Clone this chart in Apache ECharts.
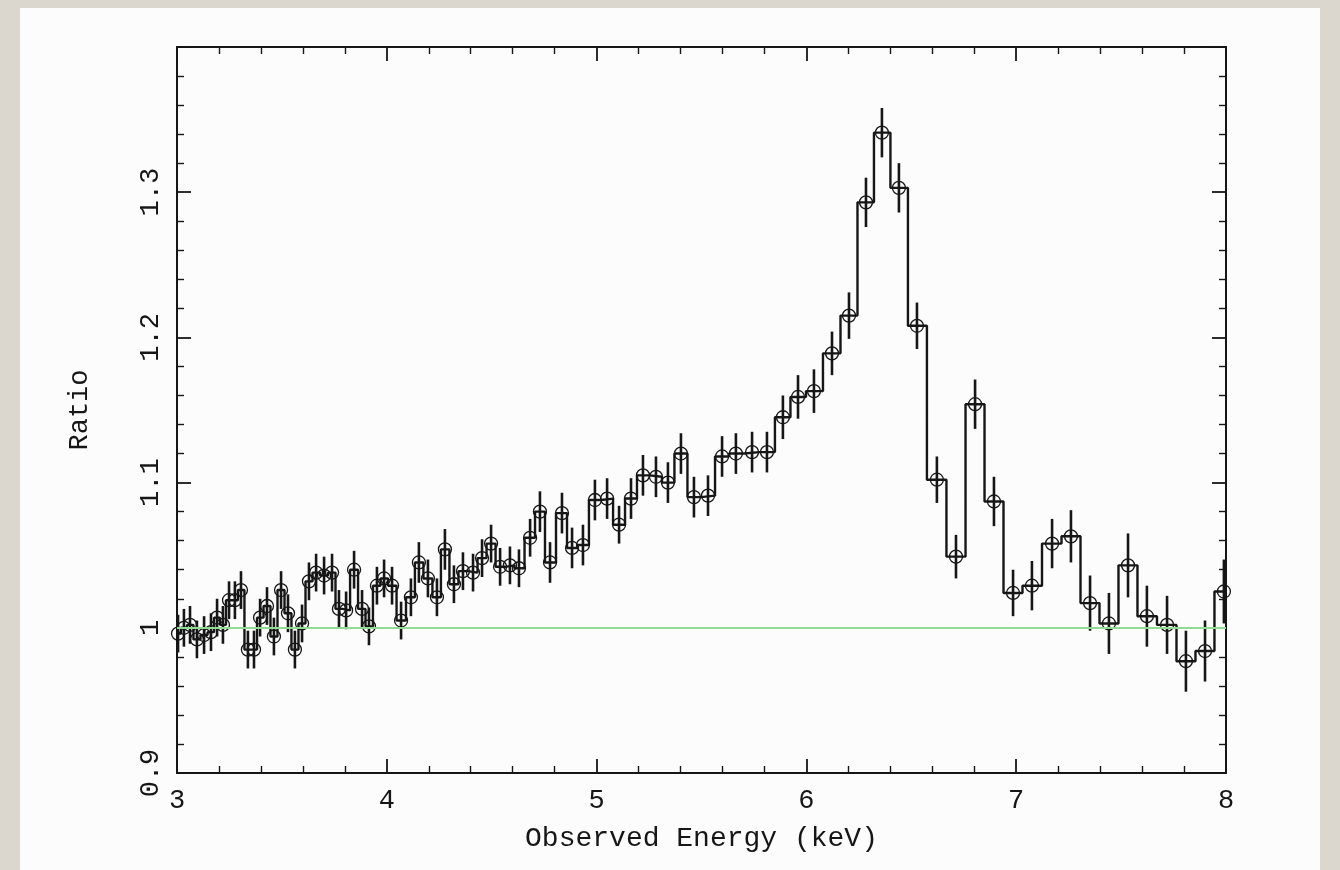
<!DOCTYPE html>
<html>
<head>
<meta charset="utf-8">
<script src="https://cdn.jsdelivr.net/npm/echarts@6/dist/echarts.min.js"></script>
<style>
html,body{margin:0;padding:0;}
body{width:1340px;height:870px;background:#dbd7cf;position:relative;overflow:hidden;}
#panel{position:absolute;left:20px;top:8px;width:1300px;height:862px;background:#fcfcfc;}
#chart{position:absolute;left:0;top:0;width:1340px;height:870px;}
</style>
</head>
<body>
<div id="panel"></div>
<div id="chart"></div>
<script>
// Bin centres (keV)
const energy = [
3.005,3.033,3.062,3.095,3.129,3.162,3.191,3.219,3.248,3.276,
3.305,3.338,3.367,3.396,3.429,3.462,3.496,3.529,3.562,3.596,
3.629,3.663,3.701,3.739,3.772,3.806,3.844,3.882,3.915,3.953,
3.987,4.025,4.068,4.115,4.153,4.196,4.239,4.277,4.320,4.363,
4.411,4.454,4.497,4.540,4.587,4.630,4.683,4.730,4.778,4.835,
4.883,4.935,4.992,5.050,5.107,5.164,5.221,5.283,5.340,5.402,
5.464,5.531,5.598,5.664,5.741,5.812,5.888,5.960,6.036,6.122,
6.203,6.284,6.360,6.441,6.527,6.622,6.713,6.804,6.894,6.985,
7.075,7.171,7.261,7.352,7.442,7.533,7.623,7.719,7.809,7.900,
7.990
];
// Data/model ratio
const ratio = [
0.996,1.000,1.002,0.992,0.995,0.997,1.007,1.002,1.019,1.019,
1.026,0.985,0.985,1.007,1.015,0.994,1.026,1.010,0.985,1.003,
1.032,1.038,1.036,1.038,1.013,1.012,1.040,1.013,1.001,1.029,
1.034,1.029,1.005,1.021,1.045,1.034,1.021,1.054,1.030,1.039,
1.038,1.048,1.058,1.042,1.043,1.041,1.062,1.080,1.045,1.079,
1.055,1.057,1.088,1.089,1.071,1.089,1.105,1.104,1.100,1.120,
1.090,1.091,1.118,1.120,1.121,1.121,1.145,1.159,1.163,1.189,
1.215,1.293,1.341,1.303,1.208,1.102,1.049,1.154,1.087,1.024,
1.029,1.058,1.063,1.017,1.003,1.043,1.008,1.002,0.977,0.984,
1.025
];
// 1-sigma errors
const ratioErr = [
0.013,0.013,0.013,0.013,0.013,0.013,0.013,0.013,0.013,0.013,
0.013,0.013,0.013,0.013,0.013,0.013,0.013,0.013,0.013,0.013,
0.013,0.013,0.013,0.013,0.013,0.013,0.013,0.013,0.013,0.013,
0.013,0.013,0.013,0.013,0.014,0.013,0.013,0.014,0.013,0.013,
0.013,0.013,0.013,0.013,0.013,0.013,0.013,0.014,0.014,0.014,
0.014,0.014,0.014,0.014,0.013,0.014,0.014,0.014,0.014,0.014,
0.014,0.014,0.014,0.014,0.014,0.014,0.015,0.015,0.015,0.015,
0.016,0.017,0.017,0.017,0.016,0.016,0.015,0.017,0.017,0.016,
0.017,0.017,0.018,0.019,0.021,0.022,0.021,0.020,0.021,0.021,
0.022
];
const xTicks = [3,4,5,6,7,8];
const yTicks = [0.9,1,1.1,1.2,1.3];
const refLevel = 1;

const X_MIN = 3, X_MAX = 8, Y_MIN = 0.9, Y_MAX = 1.4;

// Build histogram step outline from bin centres (edges at midpoints)
const stepData = [];
for (let i = 0; i < energy.length; i++) {
  let lo, hi;
  if (i === 0) lo = Math.max(X_MIN, energy[0] - (energy[1]-energy[0])/2);
  else lo = (energy[i-1] + energy[i]) / 2;
  if (i === energy.length-1) hi = Math.min(X_MAX, energy[i] + (energy[i]-energy[i-1])/2);
  else hi = (energy[i] + energy[i+1]) / 2;
  stepData.push([lo, ratio[i]]);
  stepData.push([hi, ratio[i]]);
}
const pts = energy.map((e,i)=>[e, ratio[i], ratioErr[i]]);

const FONT = '"Liberation Mono", "DejaVu Sans Mono", monospace';
const INK = '#161616';

const chart = echarts.init(document.getElementById('chart'), null, {renderer:'canvas'});

const axisCommon = {
  axisLine:{show:true, lineStyle:{color:INK, width:2}},
  axisTick:{show:true, inside:true, length:14, lineStyle:{color:INK, width:1.8}},
  minorTick:{show:true, splitNumber:5, length:7, lineStyle:{color:INK, width:1.4}},
  splitLine:{show:false}
};

chart.setOption({
  backgroundColor:'transparent',
  animation:false,
  grid:{left:177, right:114, top:47, bottom:97, containLabel:false},
  xAxis:[
    Object.assign({
      type:'value', min:X_MIN, max:X_MAX, interval:1, position:'bottom',
      name:'Observed Energy (keV)', nameLocation:'middle', nameGap:52,
      nameTextStyle:{fontFamily:FONT, fontSize:28, color:INK},
      axisLabel:{fontFamily:FONT, fontSize:27, color:INK, margin:14,
        formatter:v=> xTicks.indexOf(v) >= 0 ? String(v) : ''}
    }, axisCommon),
    Object.assign({
      type:'value', min:X_MIN, max:X_MAX, interval:1, position:'top',
      axisLabel:{show:false}
    }, axisCommon)
  ],
  yAxis:[
    Object.assign({
      type:'value', min:Y_MIN, max:Y_MAX, interval:0.1, position:'left',
      name:'Ratio', nameLocation:'middle', nameGap:84, nameRotate:90,
      nameTextStyle:{fontFamily:FONT, fontSize:27, color:INK},
      axisLabel:{fontFamily:FONT, fontSize:27, color:INK, margin:13, rotate:90,
        formatter:v=>{ const r = Math.round(v*10)/10; return yTicks.indexOf(r) >= 0 ? String(r) : ''; }}
    }, axisCommon),
    Object.assign({
      type:'value', min:Y_MIN, max:Y_MAX, interval:0.1, position:'right',
      axisLabel:{show:false}
    }, axisCommon)
  ],
  series:[
    {
      type:'line', data:stepData, xAxisIndex:0, yAxisIndex:0,
      symbol:'none', lineStyle:{color:INK, width:2.4}, z:3, silent:true
    },
    {
      type:'custom', xAxisIndex:0, yAxisIndex:0, data:pts, z:4, silent:true,
      renderItem:function(params, api){
        const x = api.value(0), v = api.value(1), e = api.value(2);
        const c = api.coord([x, v]);
        const top = api.coord([x, v+e]);
        const bot = api.coord([x, v-e]);
        return {
          type:'group',
          children:[
            {type:'line', shape:{x1:c[0], y1:top[1], x2:c[0], y2:bot[1]},
             style:{stroke:INK, lineWidth:2.6}},
            {type:'circle', shape:{cx:c[0], cy:c[1], r:6.5},
             style:{fill:'none', stroke:INK, lineWidth:1.3}}
          ]
        };
      }
    },
    {
      type:'line', data:[], xAxisIndex:0, yAxisIndex:0, z:5, silent:true,
      markLine:{
        silent:true, symbol:['none','none'], label:{show:false},
        lineStyle:{color:'#90dc90', width:2, type:'solid'},
        data:[{yAxis:refLevel}]
      }
    }
  ]
});
</script>
</body>
</html>
